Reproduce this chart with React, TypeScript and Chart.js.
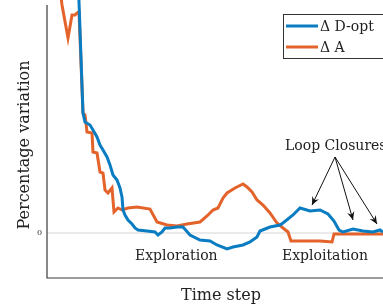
import React, { useEffect, useRef } from "react";
import { Chart, registerables } from "chart.js";

Chart.register(...registerables);

// Time step (x) and percentage variation (y), arbitrary units
const dOptX = [31.5, 36, 38, 43, 46, 50, 53, 56, 60, 63, 66, 70, 73, 75, 76, 78, 81, 85, 88, 91, 100, 108, 111, 115, 118, 123, 130, 136, 143, 153, 163, 170, 180, 186, 196, 203, 210, 213, 223, 233, 236, 246, 253, 263, 273, 281, 287, 292, 296, 306, 316, 326, 333, 336];
const dOptY = [245, 120, 111, 108, 103, 96, 88, 83, 76, 68, 58, 53, 45, 36, 23, 18, 13, 9, 5, 3, 2, 1, -2, 1, 5, 5, 6, 6, -2, -7, -8, -12, -16, -14, -12, -9, -4, 2, 6, 8, 10, 18, 25, 22, 23, 19, 12, 3, 1, 4, 2, 1, 3, 1];

const aX = [13.5, 15, 21, 25, 28, 30, 32, 36, 38, 40, 45, 46, 50, 53, 56, 58, 61, 65, 67, 71, 75, 81, 90, 103, 110, 120, 130, 140, 153, 160, 166, 171, 176, 180, 188, 196, 200, 205, 210, 216, 223, 230, 236, 241, 244, 260, 273, 285, 287, 300, 336];
const aY = [240, 228, 195, 218, 218, 220, 221, 120, 118, 101, 100, 81, 80, 61, 60, 43, 40, 45, 21, 25, 23, 25, 26, 24, 11, 8, 7, 9, 11, 17, 23, 25, 35, 40, 45, 49, 46, 41, 33, 28, 20, 10, 5, 1, -8, -8, -8, -9, -1, -1, -1];

const seriesLabels = ["\u0394 D-opt", "\u0394 A"];
const seriesColors = ["#0a7cc2", "#e3632a"];
const yTickLabels = ["0"];
const xTitle = "Time step";
const yTitle = "Percentage variation";

// annotations (data coordinates)
const phaseLabels = ["Exploration", "Exploitation"];
const phaseX = [88, 235];
const phaseY = [-27, -27];
const loopLabel = "Loop Closures";
const loopLabelPos = [238, 83];
const arrowFrom = [288, 76];
const arrowTipsX = [265, 306, 330];
const arrowTipsY = [28, 13, 9];

const SERIF = "'DejaVu Serif', 'Liberation Serif', serif";

function toPts(xs: number[], ys: number[]) {
  return xs.map((x, i) => ({ x, y: ys[i] }));
}

const decorPlugin = {
  id: "decor",
  beforeDatasetsDraw(chart: any) {
    const { ctx, chartArea, scales } = chart;
    const ys = scales.y;
    ctx.save();
    const y0 = ys.getPixelForValue(0);
    ctx.strokeStyle = "#e3e3e3";
    ctx.lineWidth = 1.5;
    ctx.beginPath();
    ctx.moveTo(chartArea.left, y0);
    ctx.lineTo(chartArea.right, y0);
    ctx.stroke();
    ctx.restore();
  },
  afterDatasetsDraw(chart: any) {
    const { ctx, chartArea, scales } = chart;
    const xs = scales.x;
    const ys = scales.y;
    ctx.save();
    // axes
    ctx.strokeStyle = "#3a3a3a";
    ctx.lineWidth = 1.2;
    ctx.beginPath();
    ctx.moveTo(chartArea.left, ys.getPixelForValue(228));
    ctx.lineTo(chartArea.left, chartArea.bottom);
    ctx.lineTo(chartArea.right, chartArea.bottom);
    ctx.stroke();

    // tick label
    ctx.fillStyle = "#333";
    ctx.font = `8px ${SERIF}`;
    ctx.textAlign = "right";
    ctx.textBaseline = "middle";
    ctx.fillText(yTickLabels[0], chartArea.left - 5, ys.getPixelForValue(0));

    // axis titles
    ctx.fillStyle = "#222";
    ctx.font = `16px ${SERIF}`;
    ctx.textAlign = "center";
    ctx.textBaseline = "alphabetic";
    ctx.fillText(xTitle, 221, 300);
    ctx.save();
    ctx.translate(29, 145);
    ctx.rotate(-Math.PI / 2);
    ctx.fillText(yTitle, 0, 0);
    ctx.restore();

    // phase labels
    ctx.font = `14px ${SERIF}`;
    ctx.textAlign = "left";
    phaseLabels.forEach((t, i) => {
      ctx.fillText(t, xs.getPixelForValue(phaseX[i]), ys.getPixelForValue(phaseY[i]));
    });
    ctx.fillText(loopLabel, xs.getPixelForValue(loopLabelPos[0]), ys.getPixelForValue(loopLabelPos[1]));

    // arrows
    const fx = xs.getPixelForValue(arrowFrom[0]);
    const fy = ys.getPixelForValue(arrowFrom[1]);
    ctx.strokeStyle = "#111";
    ctx.fillStyle = "#111";
    ctx.lineWidth = 1;
    arrowTipsX.forEach((tx0, i) => {
      const tx = xs.getPixelForValue(tx0);
      const ty = ys.getPixelForValue(arrowTipsY[i]);
      ctx.beginPath();
      ctx.moveTo(fx, fy);
      ctx.lineTo(tx, ty);
      ctx.stroke();
      const ang = Math.atan2(ty - fy, tx - fx);
      const L = 9;
      const w = 0.42;
      ctx.beginPath();
      ctx.moveTo(tx, ty);
      ctx.lineTo(tx - L * Math.cos(ang - w), ty - L * Math.sin(ang - w));
      ctx.lineTo(tx - L * 0.6 * Math.cos(ang), ty - L * 0.6 * Math.sin(ang));
      ctx.lineTo(tx - L * Math.cos(ang + w), ty - L * Math.sin(ang + w));
      ctx.closePath();
      ctx.fill();
    });

    // legend
    const lx = 283;
    const ly = 14;
    ctx.fillStyle = "#ffffff";
    ctx.fillRect(lx, ly, 110, 44);
    ctx.strokeStyle = "#333";
    ctx.lineWidth = 1;
    ctx.strokeRect(lx + 0.5, ly + 0.5, 110, 44);
    ctx.font = `14px ${SERIF}`;
    ctx.textBaseline = "alphabetic";
    seriesLabels.forEach((t, i) => {
      const yy = ly + 12 + i * 21;
      ctx.strokeStyle = seriesColors[i];
      ctx.lineWidth = 3;
      ctx.beginPath();
      ctx.moveTo(lx + 3, yy);
      ctx.lineTo(lx + 35, yy);
      ctx.stroke();
      ctx.fillStyle = "#222";
      ctx.fillText(t, lx + 37, yy + 5);
    });
    ctx.restore();
  },
};

export default function App() {
  const ref = useRef<HTMLCanvasElement | null>(null);
  useEffect(() => {
    if (!ref.current) return;
    const chart = new Chart(ref.current, {
      type: "line",
      data: {
        datasets: [
          {
            label: seriesLabels[0],
            data: toPts(dOptX, dOptY),
            borderColor: seriesColors[0],
            borderWidth: 3,
            pointRadius: 0,
            tension: 0,
            clip: false as any,
          },
          {
            label: seriesLabels[1],
            data: toPts(aX, aY),
            borderColor: seriesColors[1],
            borderWidth: 3,
            pointRadius: 0,
            tension: 0,
            clip: false as any,
          },
        ],
      },
      options: {
        responsive: false,
        animation: false,
        devicePixelRatio: 1,
        layout: { padding: { left: 47, right: 0, top: 0, bottom: 28 } },
        plugins: { legend: { display: false }, tooltip: { enabled: false } },
        scales: {
          x: { type: "linear", min: 0, max: 336, display: false },
          y: { type: "linear", min: -45, max: 233, display: false },
        },
      },
      plugins: [decorPlugin],
    });
    return () => chart.destroy();
  }, []);
  return (
    <div style={{ position: "fixed", left: 0, top: 0, width: 383, height: 306, background: "#fff" }}>
      <canvas ref={ref} width={383} height={306} style={{ display: "block", width: 383, height: 306 }} />
    </div>
  );
}
